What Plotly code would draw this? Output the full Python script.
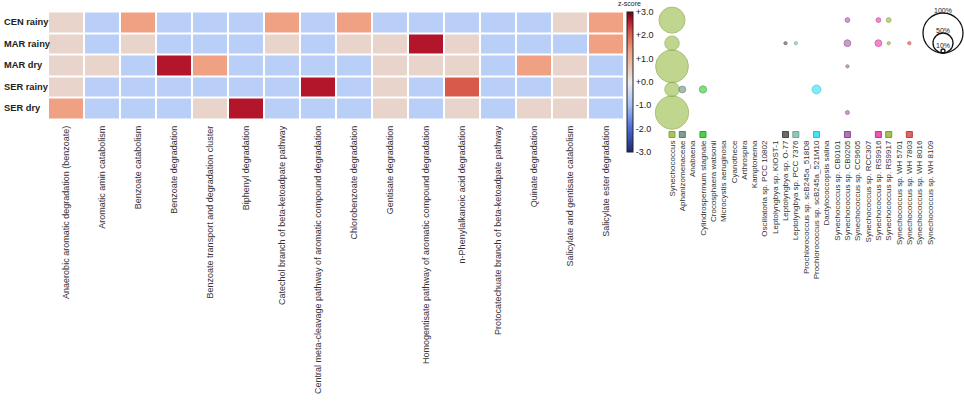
import plotly.graph_objects as go

W, H = 964, 403

# ---------------- data ----------------
samples = ["CEN rainy", "MAR rainy", "MAR dry", "SER rainy", "SER dry"]

pathways = [
    "Anaerobic aromatic degradation (benzoate)",
    "Aromatic amin catabolism",
    "Benzoate catabolism",
    "Benzoate degradation",
    "Benzoate transport and degradation cluster",
    "Biphenyl degradation",
    "Catechol branch of beta-ketoadpate pathway",
    "Central meta-cleavage pathway of aromatic compound degradation",
    "Chlorobenzoate degradation",
    "Gentisate degradation",
    "Homogentisate pathway of aromatic compound degradation",
    "n-Phenylalkanoic acid degradation",
    "Protocatechuate branch of beta-ketoadpate pathway",
    "Quinate degradation",
    "Salicylate and gentisate catabolism",
    "Salicylate ester degradation",
]

z_cen_rainy = [0.35, -0.7, 1.3, -0.7, -0.7, -0.7, 1.3, -0.7, 1.3, -0.7, -0.7, -0.7, -0.7, -0.7, 0.35, 1.3]
z_mar_rainy = [0.35, -0.7, 0.35, -0.7, -0.7, -0.7, 0.35, -0.7, 0.35, 0.35, 2.65, 0.35, -0.7, -0.7, -0.7, 1.3]
z_mar_dry = [0.35, 0.35, -0.7, 2.65, 1.3, -0.7, -0.7, -0.7, -0.7, 0.35, 0.35, 0.35, -0.7, 1.3, 0.35, -0.7]
z_ser_rainy = [0.35, -0.7, -0.7, -0.7, -0.7, -0.7, -0.7, 2.65, -0.7, 0.35, -0.7, 2.1, -0.7, -0.7, 0.35, -0.7]
z_ser_dry = [1.3, -0.7, -0.7, -0.7, 0.35, 2.65, -0.7, -0.7, -0.7, 0.35, -0.7, 0.35, -0.7, 0.35, 0.35, -0.7]

cbar_vals = [-3, -2, -1, 0, 1, 2, 3]
cbar_text = ["-3.0", "-2.0", "-1.0", "+0.0", "+1.0", "+2.0", "+3.0"]

taxa = [
    "Synechococcus", "Aphanizomenaceae", "Anabaena", "Cylindrospermum stagnale",
    "Crocosphaera watsonii", "Microcystis aeruginosa", "Cyanothece", "Arthrospira",
    "Kamptonema", "Oscillatoria sp. PCC 10802", "Leptolyngbya sp. KIOST-1",
    "Leptolyngbya sp. O-77", "Leptolyngbya sp. PCC 7376",
    "Prochlorococcus sp. scB245a_518D8", "Prochlorococcus sp. scB245a_521M10",
    "Dactylococcopsis salina", "Synechococcus sp. CB0101", "Synechococcus sp. CB0205",
    "Synechococcus sp. CC9605", "Synechococcus sp. RCC307", "Synechococcus sp. RS9916",
    "Synechococcus sp. RS9917", "Synechococcus sp. WH 5701", "Synechococcus sp. WH 7803",
    "Synechococcus sp. WH 8016", "Synechococcus sp. WH 8109",
]

# relative abundance (%) per sample (order of `samples`); 0 = absent
bubble_taxa = [
    "Synechococcus", "Aphanizomenaceae", "Cylindrospermum stagnale",
    "Leptolyngbya sp. O-77", "Leptolyngbya sp. PCC 7376",
    "Prochlorococcus sp. scB245a_521M10", "Synechococcus sp. CB0205",
    "Synechococcus sp. RS9916", "Synechococcus sp. RS9917", "Synechococcus sp. WH 7803",
]
ab_synechococcus = [65, 36, 82, 36, 83]
ab_aphanizomenaceae = [0, 0, 0, 17, 0]
ab_cylindrospermum = [0, 0, 0, 18, 0]
ab_lepto_o77 = [0, 8, 0, 0, 0]
ab_lepto_7376 = [0, 8, 0, 0, 0]
ab_prochloro_521m10 = [0, 0, 0, 22, 0]
ab_syn_cb0205 = [12, 17, 8, 0, 10]
ab_syn_rs9916 = [12, 17, 0, 0, 0]
ab_syn_rs9917 = [12, 8, 0, 0, 0]
ab_syn_wh7803 = [0, 8, 0, 0, 0]

size_legend = [100, 50, 10]
size_legend_text = ["100%", "50%", "10%"]

# ---------------- styles ----------------
FONT = "Liberation Sans, Arial, sans-serif"
bubble_fill = ["#a6c45e", "#7fa08f", "#4fcf4f", "#6b6b6b", "#92c7b8",
               "#44e6f6", "#b274b4", "#f053b3", "#a3c253", "#e06464"]
bubble_line = ["#86a53c", "#557e6b", "#2ea42e", "#4a4a4a", "#6aa897",
               "#1fc2d6", "#8e4a90", "#cf2f92", "#7b9b2b", "#bd3f3f"]
colorscale = [
    [0.0, "#1e2a6e"],
    [0.1667, "#4b69d8"],
    [0.3333, "#a5c0f5"],
    [0.3833, "#b9cff7"],
    [0.5, "#ececec"],
    [0.5583, "#e8d4ca"],
    [0.7167, "#f0a184"],
    [0.85, "#d85a4a"],
    [0.9417, "#b3152b"],
    [1.0, "#5a0a12"],
]
PX_PER_PCT = 0.4  # diameter px per % (100% -> 40px)

fig = go.Figure()

# heatmap
z = [z_cen_rainy, z_mar_rainy, z_mar_dry, z_ser_rainy, z_ser_dry]
fig.add_trace(go.Heatmap(
    z=z, x=list(range(len(pathways))), y=list(range(len(samples))),
    zmin=-3, zmax=3, colorscale=colorscale, xgap=2, ygap=2,
    colorbar=dict(
        x=627 / W, xanchor="left", y=1 - 12 / H, yanchor="top",
        len=140, lenmode="pixels", thickness=6, thicknessmode="pixels",
        xpad=0, ypad=0, outlinewidth=1, outlinecolor="#222",
        tickvals=cbar_vals, ticktext=cbar_text, ticks="",
        tickfont=dict(size=9, color="#222", family=FONT),
    ),
    hoverinfo="skip",
))

# bubbles
ab_lists = [ab_synechococcus, ab_aphanizomenaceae, ab_cylindrospermum, ab_lepto_o77,
            ab_lepto_7376, ab_prochloro_521m10, ab_syn_cb0205, ab_syn_rs9916,
            ab_syn_rs9917, ab_syn_wh7803]
for name, ab, fc, lc in zip(bubble_taxa, ab_lists, bubble_fill, bubble_line):
    xs, ys, ss = [], [], []
    for i, v in enumerate(ab):
        if v > 0:
            xs.append(taxa.index(name))
            ys.append(i)
            ss.append(v)
    fig.add_trace(go.Scatter(
        x=xs, y=ys, mode="markers", xaxis="x2", yaxis="y2", cliponaxis=False,
        marker=dict(size=ss, sizemode="diameter", sizeref=1 / PX_PER_PCT,
                    color=fc, line=dict(color=lc, width=1)),
        showlegend=False, hoverinfo="skip",
    ))

# colour squares next to taxa labels
fig.add_trace(go.Scatter(
    x=[taxa.index(n) for n in bubble_taxa], y=[4.95] * len(bubble_taxa),
    mode="markers", xaxis="x2", yaxis="y2", cliponaxis=False,
    marker=dict(symbol="square", size=6, color=bubble_fill,
                line=dict(color=bubble_line, width=1)),
    showlegend=False, hoverinfo="skip",
))

annotations = []
for i, s in enumerate(samples):
    annotations.append(dict(
        text=s, x=2 / W, xref="paper", xanchor="left", y=i, yref="y",
        yanchor="middle", showarrow=False,
        font=dict(size=9.3, color="#222", family=FONT, weight="bold"),
    ))
annotations.append(dict(
    text="z-score", x=629 / W, xref="paper", xanchor="center",
    y=1 - 3.5 / H, yref="paper", yanchor="middle", showarrow=False,
    font=dict(size=7, color="#222", family=FONT),
))

shapes = []
cx, by = 943, 53
for pct, lab in zip(size_legend, size_legend_text):
    d = pct * PX_PER_PCT
    shapes.append(dict(
        type="circle", xref="paper", yref="paper",
        xsizemode="pixel", ysizemode="pixel",
        xanchor=cx / W, yanchor=1 - by / H,
        x0=-d / 2, x1=d / 2, y0=0, y1=d,
        line=dict(color="#111", width=1.3), fillcolor="rgba(0,0,0,0)",
    ))
    annotations.append(dict(
        text=lab, x=cx / W, xref="paper", xanchor="center",
        y=1 - (by - d - 3) / H, yref="paper", yanchor="middle", showarrow=False,
        font=dict(size=7, color="#222", family=FONT),
    ))

fig.update_layout(
    width=W, height=H, margin=dict(l=0, r=0, t=0, b=0),
    paper_bgcolor="white", plot_bgcolor="white",
    font=dict(family=FONT, color="#333"),
    xaxis=dict(domain=[48 / W, 624 / W], range=[-0.5, 15.5],
               tickvals=list(range(len(pathways))), ticktext=pathways,
               tickangle=-90, tickfont=dict(size=9, color="#333", family=FONT),
               showgrid=False, zeroline=False, showline=False, ticks="",
               ticklabelstandoff=4),
    yaxis=dict(domain=[1 - 119 / H, 1 - 11.5 / H], range=[4.5, -0.5],
               showticklabels=False, showgrid=False, zeroline=False, ticks=""),
    xaxis2=dict(domain=[660 / W, 940 / W], range=[-1.163, 25.97], anchor="y2",
                tickvals=list(range(len(taxa))), ticktext=taxa,
                tickangle=-90, tickfont=dict(size=8, color="#333", family=FONT),
                showgrid=False, zeroline=False, showline=False, ticks=""),
    yaxis2=dict(domain=[1 - 138 / H, 1 - 12 / H], range=[5.10, -0.35], anchor="x2",
                showticklabels=False, showgrid=False, zeroline=False, ticks=""),
    annotations=annotations, shapes=shapes,
)

fig.write_html(
    "out.html",
    config={"displayModeBar": False},
    post_script="document.body.style.margin='0px';document.body.style.overflow='hidden';",
)
